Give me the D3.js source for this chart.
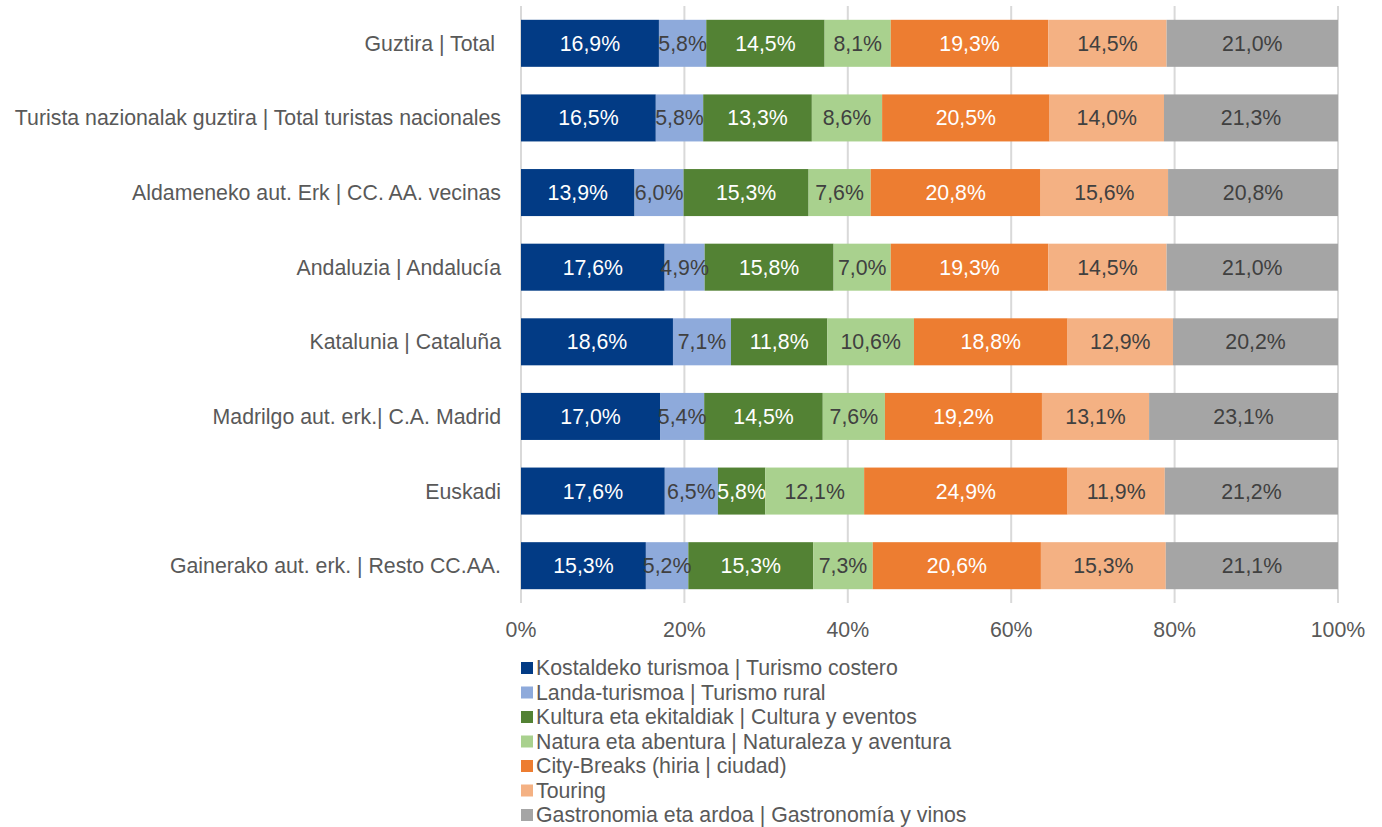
<!DOCTYPE html>
<html>
<head>
<meta charset="utf-8">
<script src="https://cdn.jsdelivr.net/npm/d3@7"></script>
<style>
  body { margin: 0; background: #fff; }
  svg { font-family: "Liberation Sans", Arial, sans-serif; }
  text { white-space: pre; }
</style>
</head>
<body>
<svg id="chart" width="1382" height="827"></svg>
<script>
var categories = [
  "Guztira | Total ",
  "Turista nazionalak guztira | Total turistas nacionales",
  "Aldameneko aut. Erk | CC. AA. vecinas",
  "Andaluzia | Andalucía",
  "Katalunia | Cataluña",
  "Madrilgo aut. erk.| C.A. Madrid",
  "Euskadi",
  "Gainerako aut. erk. | Resto CC.AA."
];
var seriesNames = [
  "Kostaldeko turismoa | Turismo costero",
  "Landa-turismoa | Turismo rural",
  "Kultura eta ekitaldiak | Cultura y eventos",
  "Natura eta abentura | Naturaleza y aventura",
  "City-Breaks (hiria | ciudad)",
  "Touring",
  "Gastronomia eta ardoa | Gastronomía y vinos"
];
var costero  = [16.9, 16.5, 13.9, 17.6, 18.6, 17.0, 17.6, 15.3];
var rural    = [5.8, 5.8, 6.0, 4.9, 7.1, 5.4, 6.5, 5.2];
var cultura  = [14.5, 13.3, 15.3, 15.8, 11.8, 14.5, 5.8, 15.3];
var natura   = [8.1, 8.6, 7.6, 7.0, 10.6, 7.6, 12.1, 7.3];
var city     = [19.3, 20.5, 20.8, 19.3, 18.8, 19.2, 24.9, 20.6];
var touring  = [14.5, 14.0, 15.6, 14.5, 12.9, 13.1, 11.9, 15.3];
var gastro   = [21.0, 21.3, 20.8, 21.0, 20.2, 23.1, 21.2, 21.1];
var xTicks = [0, 0.2, 0.4, 0.6, 0.8, 1];

var seriesValues = [costero, rural, cultura, natura, city, touring, gastro];
var colors = ["#023b85", "#8eaadb", "#538234", "#a9d18e", "#ed7d31", "#f4b183", "#a5a5a5"];
var labelColors = ["#fff", "#404040", "#fff", "#404040", "#fff", "#404040", "#404040"];
var fs = 21.3;

var svg = d3.select("#chart");
var x = d3.scaleLinear().domain([0, 1]).range([521, 1338]);
var y = d3.scaleBand().domain(categories).range([6, 603]).paddingInner(0.37).paddingOuter(0.185);

// gridlines
svg.append("g").selectAll("line").data(xTicks).join("line")
  .attr("x1", function(d) { return x(d); }).attr("x2", function(d) { return x(d); })
  .attr("y1", 6).attr("y2", 603)
  .attr("stroke", "#d9d9d9").attr("stroke-width", 2);

// stacked rows (normalised to 100%)
var rows = categories.map(function(c, i) {
  var total = d3.sum(seriesValues, function(s) { return s[i]; });
  var acc = 0;
  return seriesValues.map(function(s, k) {
    var seg = { cat: c, k: k, v: s[i], x0: acc / total, x1: (acc + s[i]) / total };
    acc += s[i];
    return seg;
  });
});
var segs = d3.merge(rows);

svg.append("g").selectAll("rect").data(segs).join("rect")
  .attr("x", function(d) { return x(d.x0); })
  .attr("width", function(d) { return x(d.x1) - x(d.x0); })
  .attr("y", function(d) { return y(d.cat); })
  .attr("height", y.bandwidth())
  .attr("fill", function(d) { return colors[d.k]; });

var fmt = function(v) { return v.toFixed(1).replace(".", ",") + "%"; };
svg.append("g").selectAll("text").data(segs).join("text")
  .attr("x", function(d) { return (x(d.x0) + x(d.x1)) / 2; })
  .attr("y", function(d) { return y(d.cat) + y.bandwidth() / 2; })
  .attr("dy", "0.35em")
  .attr("text-anchor", "middle")
  .attr("font-size", fs)
  .attr("fill", function(d) { return labelColors[d.k]; })
  .text(function(d) { return fmt(d.v); });

// category labels
svg.append("g").selectAll("text").data(categories).join("text")
  .attr("x", 501)
  .attr("y", function(d) { return y(d) + y.bandwidth() / 2; })
  .attr("dy", "0.35em")
  .attr("text-anchor", "end")
  .attr("font-size", fs)
  .attr("fill", "#595959")
  .text(function(d) { return d; });

// x axis labels
svg.append("g").selectAll("text").data(xTicks).join("text")
  .attr("x", function(d) { return x(d); })
  .attr("y", 630)
  .attr("dy", "0.35em")
  .attr("text-anchor", "middle")
  .attr("font-size", fs)
  .attr("fill", "#595959")
  .text(function(d) { return Math.round(d * 100) + "%"; });

// legend
var lg = svg.append("g").selectAll("g").data(seriesNames).join("g")
  .attr("transform", function(d, i) { return "translate(521," + (668 + i * 24.5) + ")"; });
lg.append("rect").attr("x", 0).attr("y", -6).attr("width", 12).attr("height", 12)
  .attr("fill", function(d, i) { return colors[i]; });
lg.append("text").attr("x", 15).attr("dy", "0.35em")
  .attr("font-size", fs).attr("fill", "#595959")
  .text(function(d) { return d; });
</script>
</body>
</html>
